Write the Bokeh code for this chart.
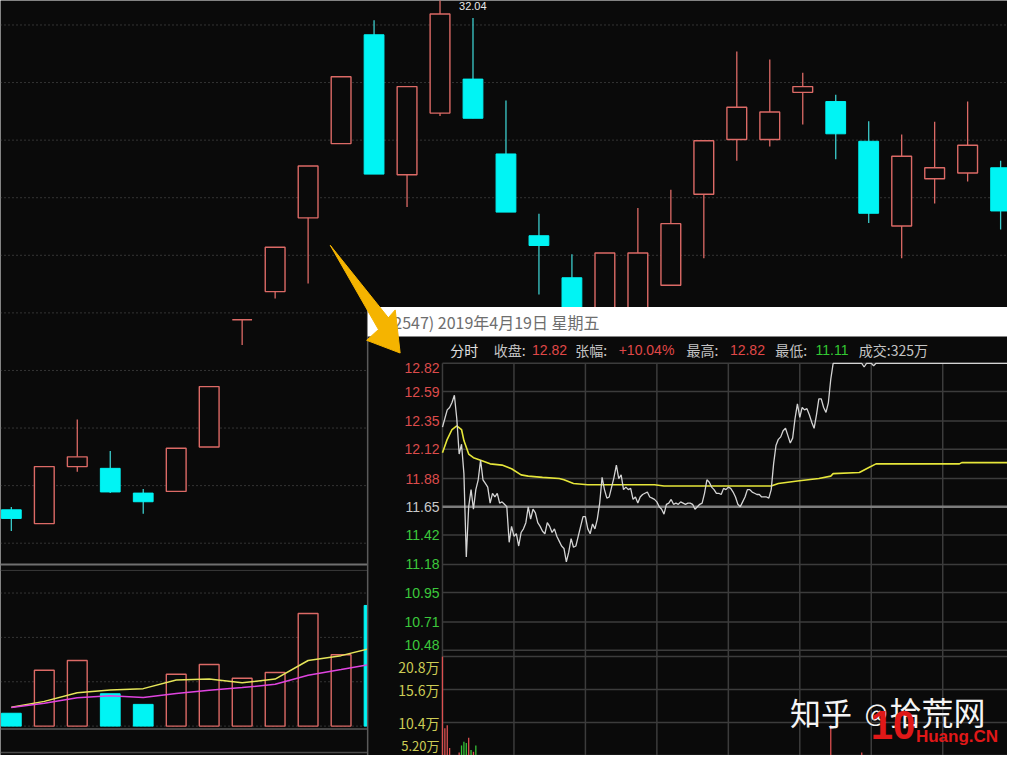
from bokeh.plotting import figure
from bokeh.models import Range1d, ColumnDataSource
from bokeh.embed import file_html
from bokeh.resources import INLINE
from bokeh.core.properties import value

# ---------------- daily candles (main chart) ----------------
k_index = list(range(31))
k_open = [23.08, 22.84, 23.83, 23.80, 23.37, 23.40, 24.17, 26.38, 26.87, 28.15, 29.44, 31.33, 28.90, 29.97, 30.56,
          29.26, 27.84, 27.11, 26.06, 26.31, 26.98, 28.56, 29.51, 29.51, 30.33, 30.17, 29.48, 28.01, 28.83, 28.93, 29.02]
k_high = [23.13, 23.83, 24.65, 24.10, 23.44, 24.15, 25.22, 26.38, 27.64, 29.05, 30.60, 31.58, 30.43, 32.04, 31.62,
          30.19, 28.22, 27.52, 27.54, 28.32, 28.64, 29.49, 31.04, 30.90, 30.67, 30.29, 29.83, 29.60, 29.82, 30.17, 29.14]
k_low = [22.71, 22.84, 23.74, 23.37, 23.01, 23.40, 24.17, 25.94, 26.75, 27.01, 29.44, 28.91, 28.34, 29.92, 29.88,
         28.25, 26.82, 26.10, 25.95, 26.20, 26.98, 27.45, 29.14, 29.39, 29.77, 29.17, 28.06, 27.45, 28.40, 28.78, 27.95]
k_close = [22.93, 23.83, 24.00, 23.39, 23.22, 24.15, 25.22, 26.38, 27.64, 29.05, 30.60, 28.91, 30.43, 31.69, 29.88,
           28.25, 27.67, 26.23, 27.54, 27.54, 28.05, 29.49, 30.07, 29.99, 30.43, 29.61, 28.23, 29.22, 29.02, 29.41, 28.27]
k_grid = [31.5, 30.5, 29.5, 28.5, 27.5, 26.5, 25.5, 24.5, 23.5, 22.5]

# ---------------- daily volume (lower left) ----------------
vol_index = list(range(12))
vol = [2.9, 12.6, 14.8, 7.3, 4.9, 11.7, 13.9, 10.8, 12.1, 25.4, 16.1, 27.2]
vol_ma5 = [4.26, 5.58, 7.51, 8.17, 8.45, 10.38, 10.60, 9.78, 10.60, 14.79, 15.89, 17.73]
vol_ma10 = [4.19, 5.14, 6.40, 6.84, 6.47, 7.35, 8.10, 8.68, 9.43, 11.48, 12.74, 14.06]
vol_grid = [0, 10, 20, 30]

# ---------------- intraday inset ----------------
title_text = "02547) 2019年4月19日 星期五"
prev_close = 11.65
day_close = 12.82
day_high = 12.82
day_low = 11.11
day_change = "+10.04%"
day_turnover = "325万"
price_ticks = [12.82, 12.59, 12.35, 12.12, 11.88, 11.65, 11.42, 11.18, 10.95, 10.71, 10.48]
vol_ticks = [20.8, 15.6, 10.4, 5.2]
vol_tick_labels = ["20.8万", "15.6万", "10.4万", "5.20万"]
time_grid = [0, 30, 60, 90, 120, 150, 180, 210, 240]

t_price = list(range(165)) + [176, 177, 178, 180, 181, 182, 240]
intraday_price = [
    12.30, 12.37, 12.44, 12.46, 12.50, 12.56, 12.37, 12.08, 12.16, 11.92,
    11.24, 11.65, 11.79, 11.63, 11.79, 11.87, 12.03, 11.87, 11.84, 11.81,
    11.68, 11.76, 11.73, 11.76, 11.68, 11.69, 11.67, 11.65, 11.36, 11.49,
    11.41, 11.43, 11.33, 11.44, 11.47, 11.52, 11.65, 11.55, 11.63, 11.60,
    11.52, 11.49, 11.45, 11.43, 11.52, 11.49, 11.44, 11.47, 11.41, 11.37,
    11.33, 11.31, 11.20, 11.28, 11.39, 11.32, 11.33, 11.41, 11.49, 11.57,
    11.57, 11.47, 11.43, 11.51, 11.47, 11.55, 11.68, 11.89, 11.79, 11.72,
    11.73, 11.81, 11.89, 11.99, 11.88, 11.91, 11.79, 11.81, 11.79, 11.80,
    11.71, 11.73, 11.68, 11.73, 11.75, 11.76, 11.77, 11.73, 11.72, 11.71,
    11.69, 11.65, 11.63, 11.59, 11.67, 11.68, 11.71, 11.67, 11.68, 11.67,
    11.69, 11.68, 11.67, 11.68, 11.68, 11.67, 11.63, 11.65, 11.67, 11.68,
    11.76, 11.87, 11.85, 11.81, 11.79, 11.76, 11.76, 11.75, 11.80, 11.79,
    11.81, 11.80, 11.77, 11.73, 11.67, 11.65, 11.69, 11.73, 11.79, 11.79,
    11.77, 11.76, 11.75, 11.75, 11.73, 11.73, 11.73, 11.72, 11.79, 12.00,
    12.15, 12.20, 12.22, 12.27, 12.29, 12.23, 12.17, 12.21, 12.37, 12.49,
    12.38, 12.46, 12.44, 12.45, 12.40, 12.34, 12.29, 12.40, 12.53, 12.53,
    12.46, 12.42, 12.50, 12.69, 12.82,
    12.82, 12.79, 12.82, 12.82, 12.80, 12.82, 12.82]

t_avg = [0, 2, 4, 6, 8, 9, 11, 13, 16, 20, 25, 29, 33, 36, 42, 49, 51, 55, 61, 68,
         79, 89, 93, 104, 138, 141, 149, 158, 163, 164, 175, 179, 182, 217, 218, 240]
avg_price = [12.09, 12.20, 12.28, 12.31, 12.28, 12.19, 12.08, 12.05, 12.03, 12.00,
             11.99, 11.96, 11.91, 11.90, 11.89, 11.88, 11.87, 11.84, 11.83, 11.83,
             11.83, 11.83, 11.82, 11.82, 11.82, 11.84, 11.86, 11.88, 11.90, 11.92,
             11.93, 11.97, 12.00, 12.00, 12.01, 12.01]

t_vol = [0, 1, 2, 3, 7, 8, 9, 10, 11, 12, 13, 14, 163, 176]
intraday_vol = [20.8, 9.5, 10.0, 6.4, 5.7, 6.8, 7.4, 7.2, 8.0, 6.1, 5.8, 6.8, 10.0, 5.7]
vol_dir = ["up", "up", "up", "up", "up", "down", "down", "down", "up", "down", "up", "down", "up", "up"]

# ---------------- styling ----------------
BG = "#0a0a0a"
RED = "#dc6a66"
CYAN = "#00f4f4"
CYAN_WICK = "#3ccccc"
NUM_FONT = value("Liberation Sans")
CJK_FONT = value("Noto Sans CJK SC")

REF_W, REF_H = 1023, 771


def rng(px_a, val_a, px_b, val_b, lo, hi):
    s = (val_b - val_a) / (px_b - px_a)
    return Range1d(start=val_a + (lo - px_a) * s, end=val_a + (hi - px_a) * s)


p = figure(width=1007, height=755, output_backend="svg", toolbar_location=None,
           x_range=Range1d(0, REF_W), y_range=Range1d(REF_H, 0),
           x_axis_location=None, y_axis_location=None, min_border=0,
           background_fill_color=BG, border_fill_color=BG, outline_line_color=None)
p.grid.visible = False

kx = rng(11, 0, 44.5, 1, 0, REF_W)
ky = rng(25, 31.5, 83.8, 30.5, REF_H, 0)
vy = rng(741, 0, 695.7, 10, REF_H, 0)
tx = rng(449, 0, 521.6, 30, 0, REF_W)
ty = rng(517, 11.65, 370.5, 12.82, REF_H, 0)
tv = rng(670, 20.8, 737.4, 10.4, REF_H, 0)
p.extra_x_ranges = {"kx": kx, "tx": tx}
p.extra_y_ranges = {"ky": ky, "vy": vy, "ty": ty, "tv": tv}

# ---- main chart grid ----
p.segment(x0=kx.start, x1=kx.end, y0=k_grid, y1=k_grid, x_range_name="kx", y_range_name="ky",
          line_color="#5e5e5e", line_width=1, line_dash="1 3")

# ---- candles ----
up = [c >= o for o, c in zip(k_open, k_close)]
def sub(mask):
    idx = [i for i, m in enumerate(mask) if m]
    return ColumnDataSource(dict(
        x=[k_index[i] for i in idx],
        left=[k_index[i] - 0.3 for i in idx],
        right=[k_index[i] + 0.3 for i in idx],
        hi=[k_high[i] for i in idx], lo=[k_low[i] for i in idx],
        top=[max(k_open[i], k_close[i]) for i in idx],
        bottom=[min(k_open[i], k_close[i]) for i in idx]))

src_up = sub(up)
src_dn = sub([not u for u in up])
p.segment(x0="x", x1="x", y0="lo", y1="hi", source=src_up, x_range_name="kx", y_range_name="ky",
          line_color=RED, line_width=1.3)
p.segment(x0="x", x1="x", y0="lo", y1="hi", source=src_dn, x_range_name="kx", y_range_name="ky",
          line_color=CYAN_WICK, line_width=1.3)
p.quad(left="left", right="right", top="top", bottom="bottom", source=src_up, x_range_name="kx",
       y_range_name="ky", fill_color=BG, line_color=RED, line_width=1.4)
p.quad(left="left", right="right", top="top", bottom="bottom", source=src_dn, x_range_name="kx",
       y_range_name="ky", fill_color=CYAN, line_color=CYAN, line_width=1)

imax = k_high.index(max(k_high))
p.text(x=[k_index[imax]], y=[k_high[imax]], text=[f"{k_high[imax]:.2f}"], x_range_name="kx", y_range_name="ky",
       x_offset=19, y_offset=8, text_baseline="top", text_align="left", text_color="#e8e8e8",
       text_font=NUM_FONT, text_font_size="11px")

# ---- volume panel separators ----
p.segment(x0=0, x1=REF_W, y0=576, y1=576, line_color="#707070", line_width=2)
p.segment(x0=0, x1=REF_W, y0=582, y1=582, line_color="#3a3a3a", line_width=1)
p.segment(x0=0, x1=REF_W, y0=744, y1=744, line_color="#5a5a5a", line_width=1.5)
p.segment(x0=0, x1=REF_W, y0=768, y1=768, line_color="#4a4a4a", line_width=1.5)
p.segment(x0=kx.start, x1=kx.end, y0=vol_grid, y1=vol_grid, x_range_name="kx", y_range_name="vy",
          line_color="#5e5e5e", line_width=1, line_dash="1 3")

vol_up = [up[i] for i in vol_index]
vs_up = ColumnDataSource(dict(x=[vol_index[i] for i in range(len(vol)) if vol_up[i]],
                              top=[vol[i] for i in range(len(vol)) if vol_up[i]]))
vs_dn = ColumnDataSource(dict(x=[vol_index[i] for i in range(len(vol)) if not vol_up[i]],
                              top=[vol[i] for i in range(len(vol)) if not vol_up[i]]))
p.vbar(x="x", top="top", bottom=0, width=0.6, source=vs_up, x_range_name="kx", y_range_name="vy",
       fill_color=BG, line_color=RED, line_width=1.4)
p.vbar(x="x", top="top", bottom=0, width=0.6, source=vs_dn, x_range_name="kx", y_range_name="vy",
       fill_color=CYAN, line_color=CYAN, line_width=1)
p.line(vol_index, vol_ma5, x_range_name="kx", y_range_name="vy", line_color="#e6e65a", line_width=1.5)
p.line(vol_index, vol_ma10, x_range_name="kx", y_range_name="vy", line_color="#e044e0", line_width=1.5)

# ---- inset panel ----
p.quad(left=373, right=REF_W, top=313, bottom=REF_H, fill_color=BG, line_color=None)
p.segment(x0=373, x1=373, y0=313, y1=REF_H, line_color="#5a5a5a", line_width=1.5)
p.quad(left=373, right=REF_W, top=313, bottom=343, fill_color="#ffffff", line_color=None)
p.text(x=[390], y=[328], text=[title_text], text_font=CJK_FONT, text_font_size="16px",
       text_color="#6e6e6e", text_baseline="middle", text_align="left")

hdr_cjk = ["分时", "收盘:", "张幅:", "最高:", "最低:", "成交:" + day_turnover]
hdr_cjk_x = [457, 501, 584, 697, 787, 872]
hdr_cjk_c = ["#e0e0e0", "#c4c4c4", "#c4c4c4", "#c4c4c4", "#c4c4c4", "#c4c4c4"]
p.text(x=hdr_cjk_x, y=[357] * len(hdr_cjk), text=hdr_cjk, text_color=hdr_cjk_c, text_font=CJK_FONT,
       text_font_size="14px", text_baseline="middle", text_align="left")
hdr_num = [f"{day_close:.2f}", day_change, f"{day_high:.2f}", f"{day_low:.2f}"]
hdr_num_x = [540, 628, 741, 828]
hdr_num_c = ["#e04848", "#e04848", "#e04848", "#33c833"]
p.text(x=hdr_num_x, y=[357] * len(hdr_num), text=hdr_num, text_color=hdr_num_c, text_font=NUM_FONT,
       text_font_size="14px", text_baseline="middle", text_align="left")

# inset grid
other_ticks = [t for t in price_ticks if t != prev_close]
p.segment(x0=0, x1=240, y0=other_ticks, y1=other_ticks, x_range_name="tx", y_range_name="ty",
          line_color="#3c3c3c", line_width=1.5)
p.segment(x0=0, x1=240, y0=vol_ticks, y1=vol_ticks, x_range_name="tx", y_range_name="tv",
          line_color="#3c3c3c", line_width=1.5)
p.segment(x0=time_grid, x1=time_grid, y0=max(price_ticks), y1=ty.start, x_range_name="tx", y_range_name="ty",
          line_color="#3c3c3c", line_width=1.5)
p.segment(x0=0, x1=240, y0=prev_close, y1=prev_close, x_range_name="tx", y_range_name="ty",
          line_color="#7c7c7c", line_width=2.5)

# price labels
def tick_color(t):
    if t > prev_close + 1e-9:
        return "#dc4c4c"
    if t < prev_close - 1e-9:
        return "#3cc83c"
    return "#c8c8c8"

mid_ticks = price_ticks[1:-1]
p.text(x=[446] * len(mid_ticks), y=mid_ticks, text=[f"{t:.2f}" for t in mid_ticks], y_range_name="ty",
       text_color=[tick_color(t) for t in mid_ticks], text_font=NUM_FONT, text_font_size="14px",
       text_align="right", text_baseline="middle")
p.text(x=[446], y=[price_ticks[0]], text=[f"{price_ticks[0]:.2f}"], y_range_name="ty",
       text_color=tick_color(price_ticks[0]), text_font=NUM_FONT, text_font_size="14px",
       text_align="right", text_baseline="top", y_offset=0)
p.text(x=[446], y=[price_ticks[-1]], text=[f"{price_ticks[-1]:.2f}"], y_range_name="ty",
       text_color=tick_color(price_ticks[-1]), text_font=NUM_FONT, text_font_size="14px",
       text_align="right", text_baseline="bottom")
p.text(x=[446], y=[vol_ticks[0]], text=[vol_tick_labels[0]], y_range_name="tv",
       text_color="#cccc55", text_font=CJK_FONT, text_font_size="14px",
       text_align="right", text_baseline="top")
p.text(x=[446] * 2, y=vol_ticks[1:3], text=vol_tick_labels[1:3], y_range_name="tv",
       text_color="#cccc55", text_font=CJK_FONT, text_font_size="14px",
       text_align="right", text_baseline="middle")
p.text(x=[446], y=[vol_ticks[3]], text=[vol_tick_labels[3]], y_range_name="tv",
       text_color="#cccc55", text_font=CJK_FONT, text_font_size="13px",
       text_align="right", text_baseline="bottom", y_offset=-1)

# intraday volume
vcol = ["#dc5050" if d == "up" else "#38c038" for d in vol_dir]
p.segment(x0=t_vol, x1=t_vol, y0=0, y1=intraday_vol, x_range_name="tx", y_range_name="tv",
          line_color=vcol, line_width=1.3)

# intraday lines
p.line(t_avg, avg_price, x_range_name="tx", y_range_name="ty", line_color="#e6e63a", line_width=1.6)
p.line(t_price, intraday_price, x_range_name="tx", y_range_name="ty", line_color="#d4d4d4", line_width=1.3)

# ---- arrow ----
arrow_x = [335, 394, 401, 406, 372, 384]
arrow_y = [250, 324, 316, 360, 347, 336]
p.patch(arrow_x, arrow_y, fill_color="#f5b400", line_color="#f5b400", line_width=1)

# ---- watermark ----
p.text(x=[802], y=[726], text=["知乎"], text_color="#f4f4f4", text_font=CJK_FONT, text_font_size="31px",
       text_baseline="middle", text_align="left")
p.text(x=[878], y=[726], text=["@"], text_color="#f4f4f4", text_font=CJK_FONT, text_font_size="24px",
       text_baseline="middle", text_align="left")
p.text(x=[903], y=[726], text=["拾荒网"], text_color="#f4f4f4", text_font=CJK_FONT, text_font_size="32px",
       text_baseline="middle", text_align="left")
p.text(x=[884], y=[740], text=["10"], text_color="#e01818", text_font=NUM_FONT, text_font_size="40px",
       text_baseline="middle", text_align="left", text_font_style="bold")
p.text(x=[930], y=[752], text=["Huang.CN"], text_color="#e01818", text_font=NUM_FONT, text_font_size="17px",
       text_baseline="middle", text_align="left", text_font_style="bold")

open("out.html", "w").write(file_html(p, INLINE))
